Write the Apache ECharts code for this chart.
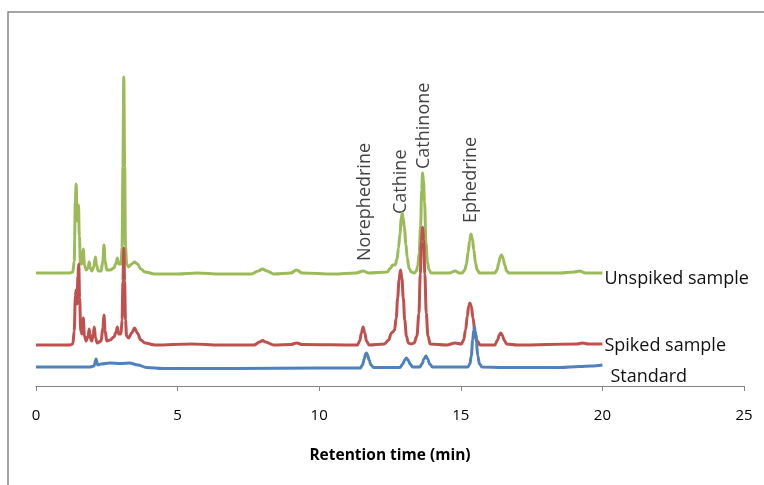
<!DOCTYPE html>
<html><head><meta charset="utf-8">
<script src="https://cdn.jsdelivr.net/npm/echarts@6/dist/echarts.min.js"></script>
<style>html,body{margin:0;padding:0;background:#fff}#c{width:764px;height:485px}</style>
</head><body><div id="c"></div>
<script>
// Retention time (min) / detector response (arbitrary units, traces offset)
const unspiked = [[0,113],[1.2,113],[1.3,114],[1.35,125],[1.39,185],[1.42,202],[1.45,165],[1.48,178],[1.5,181],[1.53,150],[1.57,122],[1.62,122],[1.67,137],[1.71,121],[1.77,116],[1.84,118],[1.88,124],[1.92,118],[1.97,115],[2.04,119],[2.1,129],[2.14,120],[2.2,115],[2.3,115],[2.36,125],[2.4,141],[2.44,125],[2.5,116],[2.62,116],[2.75,118],[2.83,123],[2.87,128],[2.92,122],[3.0,122],[3.04,138],[3.07,220],[3.1,309],[3.13,220],[3.16,140],[3.2,122],[3.27,119],[3.38,122],[3.48,124],[3.58,122],[3.7,117],[3.85,114],[4.2,112],[5,112],[5.7,113],[6.5,112],[7.6,112],[7.85,115],[8.0,117],[8.15,115],[8.4,112],[9.0,113],[9.2,116],[9.4,113],[10.5,112],[11.3,113],[11.55,115],[11.75,113],[12.4,114],[12.52,118],[12.6,121],[12.68,121],[12.75,127],[12.8,138],[12.85,152],[12.9,168],[12.93,173],[12.96,169],[13.01,158],[13.06,142],[13.11,128],[13.17,118],[13.25,114],[13.35,113],[13.43,115],[13.48,120],[13.53,133],[13.58,160],[13.62,196],[13.65,213],[13.68,206],[13.72,184],[13.77,143],[13.82,124],[13.88,116],[13.95,113],[14.2,113],[14.6,113],[14.8,115],[14.95,113],[15.05,113],[15.14,116],[15.2,122],[15.26,134],[15.31,145],[15.36,152],[15.41,147],[15.46,136],[15.52,123],[15.58,116],[15.66,113],[16.2,113],[16.28,116],[16.34,123],[16.39,129],[16.44,131],[16.49,128],[16.55,121],[16.62,115],[16.7,113],[17,113],[18.5,113],[19.0,114],[19.2,115],[19.4,113],[20,113]];
const spiked = [[0,41],[1.2,41],[1.3,42],[1.35,55],[1.39,90],[1.42,96],[1.45,82],[1.48,110],[1.51,122],[1.54,88],[1.58,55],[1.62,52],[1.67,68],[1.71,50],[1.77,45],[1.84,50],[1.88,57],[1.92,47],[1.97,45],[2.02,52],[2.06,59],[2.1,48],[2.16,43],[2.3,45],[2.36,58],[2.4,71],[2.44,55],[2.5,45],[2.62,46],[2.75,49],[2.83,54],[2.87,59],[2.92,52],[3.0,52],[3.04,66],[3.07,105],[3.1,138],[3.13,105],[3.16,66],[3.2,50],[3.27,48],[3.38,53],[3.48,58],[3.58,53],[3.7,46],[3.85,43],[4.2,41],[5.5,42],[6.5,41],[7.7,41],[7.9,44],[8.0,45.5],[8.1,44],[8.4,41],[9.0,41.5],[9.2,43],[9.4,41.5],[11.35,41],[11.43,45],[11.49,53],[11.55,59],[11.61,53],[11.67,45],[11.76,41],[12.3,42],[12.45,46],[12.55,53],[12.6,54],[12.66,56],[12.72,68],[12.77,88],[12.82,106],[12.87,116],[12.92,108],[12.97,88],[13.02,66],[13.08,50],[13.15,43],[13.25,42],[13.35,43],[13.45,50],[13.52,72],[13.57,112],[13.61,145],[13.65,159],[13.69,146],[13.73,112],[13.78,73],[13.84,50],[13.92,42],[14.5,41],[14.8,43],[15.02,42],[15.1,46],[15.17,56],[15.23,70],[15.28,80],[15.32,83],[15.37,80],[15.43,68],[15.5,54],[15.58,45],[15.68,41],[16.2,41],[16.3,46],[16.36,51],[16.41,53],[16.46,51],[16.53,46],[16.62,42],[17,41],[19.1,42],[19.3,43],[19.5,42],[20,42]];
const standard = [[0,19],[1.9,19],[2.05,20],[2.12,27],[2.18,21],[2.3,22],[2.6,23],[3.0,22.5],[3.3,23],[3.6,21],[3.9,18.5],[4.5,17.5],[7,17.5],[10,18],[11.45,18],[11.53,21],[11.59,27],[11.64,32],[11.67,33],[11.71,31],[11.76,26],[11.83,21],[11.92,18.5],[12.85,18.5],[12.95,22],[13.02,26],[13.08,28],[13.14,26],[13.21,22],[13.3,19],[13.55,19],[13.63,22],[13.7,27],[13.77,30],[13.83,27],[13.9,22],[14.0,19],[15.25,19],[15.32,22],[15.37,30],[15.42,46],[15.46,56],[15.48,59],[15.51,55],[15.55,44],[15.6,30],[15.66,22],[15.75,19],[16.5,18.5],[18.5,18.5],[19.2,19.5],[19.6,20],[20,21]];
const seriesNames = ['Unspiked sample','Spiked sample','Standard'];
const peakNames = ['Norephedrine','Cathine','Cathinone','Ephedrine'];
const peakTimes = [11.63, 12.9, 13.68, 15.36];
const peakLabelBase = [125, 172, 217, 163];
const xTicks = [0,5,10,15,20,25];

const font = '"Open Sans", "Noto Sans", sans-serif';
const chart = echarts.init(document.getElementById('c'), null, {renderer:'canvas'});
const line = (name, data, color, offset) => ({
  name, type:'line', data, showSymbol:false, smooth:0.35, smoothMonotone:'x',
  lineStyle:{width:3, color}, itemStyle:{color},
  endLabel:{show:true, formatter:'{a}', fontFamily:font, fontSize:18, color:'#111', distance:2, offset},
  animation:false
});
chart.setOption({
  animation:false,
  graphic:[{type:'rect', shape:{x:8,y:12,width:800,height:520}, style:{fill:'none', stroke:'#868686', lineWidth:1.5}, silent:true}],
  grid:{left:36, right:20, top:35, bottom:99, containLabel:false},
  xAxis:{type:'value', min:xTicks[0], max:xTicks[xTicks.length-1], interval:5,
    axisLine:{lineStyle:{color:'#868686', width:1}},
    axisTick:{show:true, length:5, lineStyle:{color:'#868686'}},
    splitLine:{show:false},
    axisLabel:{fontFamily:font, fontSize:15, color:'#000', margin:22},
    name:'Retention time (min)', nameLocation:'middle', nameGap:62,
    nameTextStyle:{fontFamily:font, fontSize:15.5, fontWeight:'bold', color:'#000'}},
  yAxis:{type:'value', min:0, max:351, show:false},
  series:[
    line(seriesNames[0], unspiked, '#9BBB59', [0,6]),
    line(seriesNames[1], spiked, '#C0504D', [0,2]),
    line(seriesNames[2], standard, '#4F81BD', [6,12]),
    {type:'scatter', data: peakNames.map((n,i)=>({name:n, value:[peakTimes[i], peakLabelBase[i]]})),
      symbolSize:0, silent:true, animation:false,
      label:{show:true, position:[0,0], rotate:90, align:'left', verticalAlign:'middle',
        formatter:'{b}', fontFamily:font, fontSize:18, color:'#111'}}
  ]
});
</script></body></html>
